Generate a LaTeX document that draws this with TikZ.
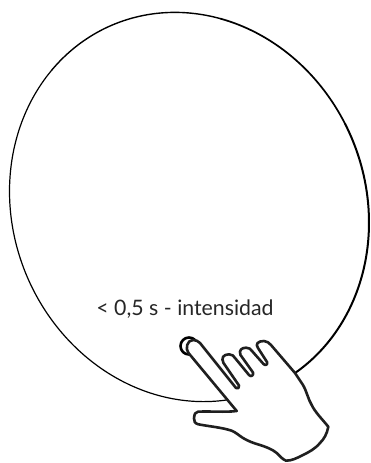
\documentclass[tikz,border=0pt]{standalone}
\usepackage{fontspec}
\setmainfont{Lato}
\tikzset{
 outline/.style={draw=black,line join=round,line cap=round},
 handline/.style={outline,draw=black!88!white,line width=2.6pt,fill=white},
 lbl/.style={text=black!85,font=\fontsize{21.3}{24}\selectfont,inner sep=0pt}
}
\newcommand{\ringarc}[3]{\draw[outline,line width=#3] plot[domain=#1:#2,samples=60,smooth] ({189.25+179.75*cos(\x)},{207+15.6*cos(\x)+194*sin(\x)});}
\begin{document}
\begin{tikzpicture}[x=1pt,y=-1pt]
\useasboundingbox (0,0) rectangle (371,463);
\ringarc{60}{220}{1.2pt}
\ringarc{220}{280}{1.4pt}
\ringarc{280}{330}{1.7pt}
\ringarc{330}{425}{2pt}
\node[lbl] (t) at (185,309) {< 0,5 s - intensidad};
\draw[outline,line width=2.6pt] (189,346) circle (8.5pt);
\draw[handline] (236.7,411) -- (188.5,353) .. controls (185,349) and (187,340) .. (193,340) .. controls (196,340) and (198,341) .. (200,343) -- (236,388) .. controls (237.5,389.5) and (240,387.5) .. (239,385.5)
 -- (223.5,363) .. controls (221,358) and (223,354.5) .. (229,354.3) .. controls (232,354.3) and (234,356) .. (235,358) -- (249,375) .. controls (251,377.5) and (254,375) .. (253,372.5)
 -- (240.5,355) .. controls (238.5,350) and (242,347.7) .. (246,347.7) .. controls (249,347.7) and (251,349) .. (252,351) -- (263.5,364) .. controls (265.5,366) and (268,364.5) .. (267,362)
 -- (258,348) .. controls (255,344) and (258,341) .. (264,341) .. controls (267,341) and (269,343) .. (271,345) -- (295,373) -- (303,385) .. controls (307,392) and (308,399) .. (311.7,405) .. controls (315,412) and (322,419) .. (328.3,426.7)
 .. controls (327,434) and (324,439) .. (320,443) .. controls (315,449) and (309,452) .. (303,455) .. controls (297,458) and (292,460.7) .. (286,460.7)
 .. controls (282,459) and (280,456) .. (276.7,453) .. controls (272,449) and (266,447) .. (260,445) .. controls (253,443) and (248,441) .. (243,438) .. controls (239,435.5) and (236,432.5) .. (231.7,430.7) .. controls (222,427.5) and (210,426.5) .. (198.3,424.3) .. controls (195,423.5) and (193.5,421) .. (194,418.3) .. controls (194.5,414) and (195,412) .. (198,411.7) .. controls (210,411) and (225,412.5) .. (236.7,411) -- cycle;
\end{tikzpicture}
\end{document}
